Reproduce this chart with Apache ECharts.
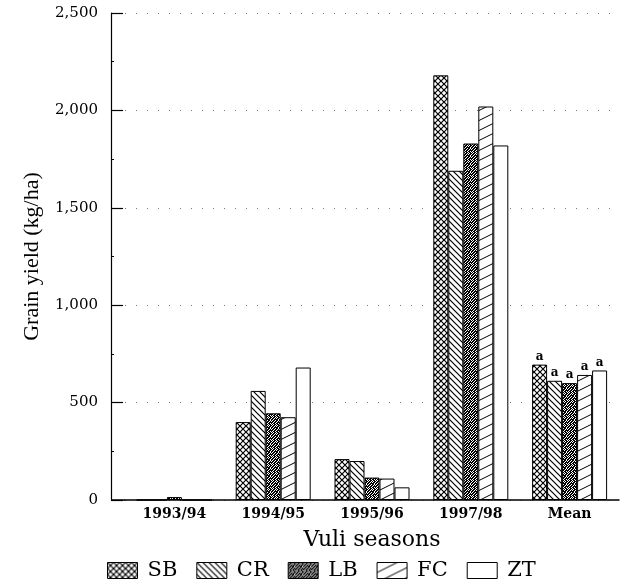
<!DOCTYPE html>
<html><head><meta charset="utf-8">
<script src="https://cdn.jsdelivr.net/npm/echarts@6/dist/echarts.min.js"></script>
<style>html,body{margin:0;padding:0;background:#fff}#c{width:625px;height:588px}</style>
</head><body><div id="c"></div>
<script>
// ---- data ----
var categories = ['1993/94', '1994/95', '1995/96', '1997/98', 'Mean'];
var seriesNames = ['SB', 'CR', 'LB', 'FC', 'ZT'];
var SB = [0, 400, 210, 2180, 695];
var CR = [0, 560, 200, 1690, 612];
var LB = [15, 445, 115, 1830, 600];
var FC = [0, 425, 110, 2020, 642];
var ZT = [0, 680, 65, 1820, 665];
var meanLetters = ['a', 'a', 'a', 'a', 'a'];
var yTicks = [0, 500, 1000, 1500, 2000, 2500];

// ---- patterns (styling) ----
function mk(w, h, draw) {
  var c = document.createElement('canvas'); c.width = w; c.height = h;
  var g = c.getContext('2d'); g.fillStyle = '#fff'; g.fillRect(0, 0, w, h);
  g.strokeStyle = '#000'; g.fillStyle = '#000'; g.lineWidth = 1.2; draw(g, w, h); return c;
}
var patSB = mk(6, 6, function (g, w, h) {
  g.beginPath(); g.moveTo(0, 0); g.lineTo(w, h); g.moveTo(w, 0); g.lineTo(0, h); g.stroke();
});
var patCR = mk(6, 6, function (g, w, h) {
  g.beginPath(); g.moveTo(-1, -1); g.lineTo(w + 1, h + 1);
  g.moveTo(-1, h - 1); g.lineTo(1, h + 1); g.moveTo(w - 1, -1); g.lineTo(w + 1, 1); g.stroke();
});
var lbBits = [
  '10110110', '01101011', '11010110', '10111101',
  '01101101', '11011010', '10110111', '01101101'];
var patLB = mk(8, 8, function (g) {
  for (var y = 0; y < 8; y++) for (var x = 0; x < 8; x++)
    if (lbBits[y][x] === '1') g.fillRect(x, y, 1, 1);
});
var patFC = mk(20, 10, function (g, w, h) {
  g.lineWidth = 1;
  g.beginPath();
  for (var k = -1; k <= 1; k++) { g.moveTo(0, h + k * h); g.lineTo(w, k * h); }
  g.stroke();
});
var fills = [
  { image: patSB, repeat: 'repeat' },
  { image: patCR, repeat: 'repeat' },
  { image: patLB, repeat: 'repeat' },
  { image: patFC, repeat: 'repeat' },
  '#ffffff'
];
var values = [SB, CR, LB, FC, ZT];
var SERIF = '"DejaVu Serif", "Liberation Serif", serif';
var TIMES = '"Liberation Serif", serif';

var series = seriesNames.map(function (name, i) {
  return {
    name: name, type: 'bar', barWidth: 15, barGap: 0,
    itemStyle: { color: fills[i], borderColor: '#000', borderWidth: 1 },
    data: values[i].map(function (v, j) {
      if (j === categories.length - 1) {
        return { value: v, label: { show: true, position: 'top', distance: 2, formatter: meanLetters[i],
          fontFamily: SERIF, fontWeight: 'bold', fontSize: 12, color: '#000' } };
      }
      return v;
    })
  };
});

var chart = echarts.init(document.getElementById('c'), null, { renderer: 'canvas' });
chart.setOption({
  animation: false,
  backgroundColor: '#fff',
  grid: { left: 125, right: 6, top: 13, bottom: 88 },
  legend: {
    data: seriesNames, left: 102, top: 555, itemWidth: 30, itemHeight: 16, itemGap: 19,
    icon: 'rect',
    textStyle: { fontFamily: SERIF, fontSize: 21, color: '#000', padding: [0, 0, 0, 5] },
    itemStyle: { borderColor: '#000', borderWidth: 1 }
  },
  xAxis: {
    type: 'category', data: categories,
    axisLine: { lineStyle: { color: '#000', width: 1.5 } },
    axisTick: { show: false },
    axisLabel: { fontFamily: SERIF, fontWeight: 'bold', fontSize: 14, color: '#000', margin: 7 },
    name: 'Vuli seasons', nameLocation: 'middle', nameGap: 29,
    nameTextStyle: { fontFamily: SERIF, fontSize: 22, color: '#000' }
  },
  yAxis: {
    type: 'value', min: yTicks[0], max: yTicks[yTicks.length - 1], interval: 500, offset: 14,
    axisLine: { show: true, lineStyle: { color: '#000', width: 1.2 } },
    axisTick: { show: true, inside: true, length: 12, lineStyle: { color: '#000', width: 1.2 } },
    minorTick: { show: true, splitNumber: 2, length: 3, lineStyle: { color: '#000' } },
    splitLine: { show: true, lineStyle: { color: '#777', type: [1, 10], width: 1 } },
    axisLabel: { fontFamily: SERIF, fontSize: 15, color: '#000', margin: 13,
      formatter: function (v) { return v.toLocaleString('en-US'); } },
    name: 'Grain yield (kg/ha)', nameLocation: 'middle', nameGap: 68, nameRotate: 90,
    nameTextStyle: { fontFamily: TIMES, fontSize: 22, color: '#000' }
  },
  graphic: [{
    type: 'line', shape: { x1: 111, y1: 500, x2: 125, y2: 500 },
    style: { stroke: '#000', lineWidth: 1.5 }, silent: true
  }],
  series: series
});
</script></body></html>
